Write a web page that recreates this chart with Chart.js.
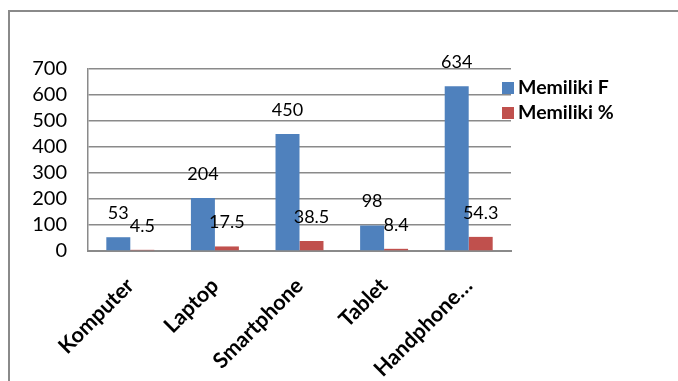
<!DOCTYPE html>
<html>
<head>
<meta charset="utf-8">
<title>Kepemilikan Perangkat</title>
<script src="https://cdn.jsdelivr.net/npm/chart.js@4/dist/chart.umd.min.js"></script>
<style>
  html, body { margin: 0; padding: 0; background: #ffffff; }
  #wrap { position: relative; width: 678px; height: 381px; }
</style>
</head>
<body>
<div id="wrap"><canvas id="c"></canvas></div>
<script>
// Device categories and counts
const categories = ['Komputer', 'Laptop', 'Smartphone', 'Tablet', 'Handphone\u2026'];
const memilikiF = [53, 204, 450, 98, 634];
const memilikiPersen = [4.5, 17.5, 38.5, 8.4, 54.3];
const seriesNames = ['Memiliki F', 'Memiliki %'];
const yTicks = [0, 100, 200, 300, 400, 500, 600, 700];

const FONT = 'Lato, "Open Sans", sans-serif';

// Outer frame of the chart
const framePlugin = {
  id: 'frame',
  beforeDraw(chart) {
    const ctx = chart.ctx;
    ctx.save();
    ctx.fillStyle = '#ffffff';
    ctx.fillRect(0, 0, chart.width, chart.height);
    ctx.strokeStyle = '#8a8a8a';
    ctx.lineWidth = 2;
    ctx.strokeRect(9, 11, chart.width + 20, chart.height + 20);
    ctx.restore();
  }
};

// Value labels above each bar
const valueLabels = {
  id: 'valueLabels',
  afterDatasetsDraw(chart) {
    const ctx = chart.ctx;
    ctx.save();
    ctx.font = '18px ' + FONT;
    ctx.fillStyle = '#000000';
    ctx.textAlign = 'center';
    ctx.textBaseline = 'middle';
    chart.data.datasets.forEach((ds, i) => {
      const meta = chart.getDatasetMeta(i);
      meta.data.forEach((bar, j) => {
        ctx.fillText(String(ds.data[j]), bar.x, bar.y - 24);
      });
    });
    ctx.restore();
  }
};

// Legend beside the plot, overlapping its right edge
const sideLegend = {
  id: 'sideLegend',
  afterDraw(chart) {
    const ctx = chart.ctx;
    const area = chart.chartArea;
    ctx.save();
    ctx.font = 'bold 19.5px ' + FONT;
    ctx.textBaseline = 'middle';
    ctx.textAlign = 'left';
    chart.data.datasets.forEach((ds, i) => {
      const cy = area.top + 19 + i * 25;
      ctx.fillStyle = ds.backgroundColor;
      ctx.fillRect(area.right - 9, cy - 6, 12, 12);
      ctx.fillStyle = '#000000';
      ctx.fillText(ds.label, area.right + 7, cy);
    });
    ctx.restore();
  }
};

new Chart(document.getElementById('c'), {
  type: 'bar',
  data: {
    labels: categories,
    datasets: [
      { label: seriesNames[0], data: memilikiF, backgroundColor: '#4f81bd' },
      { label: seriesNames[1], data: memilikiPersen, backgroundColor: '#c0504d' }
    ]
  },
  options: {
    responsive: true,
    maintainAspectRatio: false,
    animation: false,
    layout: { padding: { left: 0, top: 69, right: 167, bottom: 0 } },
    datasets: { bar: { categoryPercentage: 0.567, barPercentage: 1.0 } },
    plugins: {
      legend: { display: false },
      tooltip: { enabled: false }
    },
    scales: {
      x: {
        grid: { display: false, drawTicks: false },
        border: { display: true, color: '#8a8a8a', width: 2 },
        ticks: {
          color: '#000000',
          font: { family: FONT, size: 21.5, weight: 'bold' },
          maxRotation: 45,
          minRotation: 45,
          autoSkip: false,
          padding: 22
        },
        afterFit(scale) { scale.height = 130; }
      },
      y: {
        min: 0,
        max: 700,
        afterBuildTicks(scale) { scale.ticks = yTicks.map(v => ({ value: v })); },
        grid: { color: '#8a8a8a', lineWidth: 1.5, drawTicks: false },
        border: { display: true, color: '#8a8a8a', width: 1.5 },
        ticks: {
          color: '#000000',
          font: { family: FONT, size: 20 },
          padding: 21,
          autoSkip: false
        },
        afterFit(scale) { scale.width = 88; }
      }
    }
  },
  plugins: [framePlugin, valueLabels, sideLegend]
});
</script>
</body>
</html>
